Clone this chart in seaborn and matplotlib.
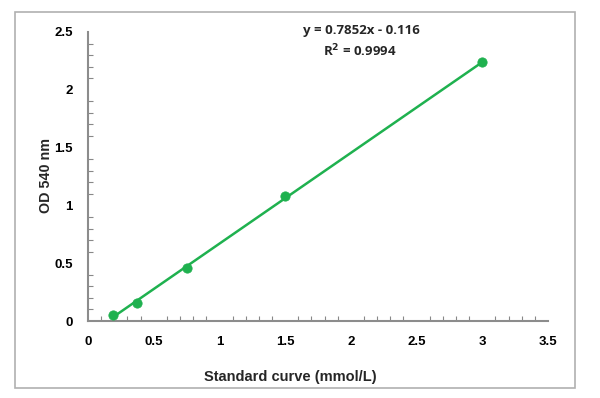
import numpy as np
import pandas as pd
import matplotlib.pyplot as plt
import seaborn as sb
from matplotlib.patches import Rectangle

# standard curve readings
conc = [0.1875, 0.375, 0.75, 1.5, 3.0]
od = [0.055, 0.157, 0.458, 1.085, 2.243]

# trendline as reported
slope = 0.7852
intercept = -0.116
r2 = 0.9994

xticks = [0, 0.5, 1, 1.5, 2, 2.5, 3, 3.5]
xlabels = ['0', '0.5', '1', '1.5', '2', '2.5', '3', '3.5']
yticks = [0, 0.5, 1, 1.5, 2, 2.5]
ylabels = ['0', '0.5', '1', '1.5', '2', '2.5']

sb.set_style('white')
plt.rcParams['font.family'] = ['Liberation Sans', 'DejaVu Sans']
plt.rcParams['font.weight'] = 'bold'

green = '#1fb14f'

df = pd.DataFrame({'conc': conc, 'od': od})
fit = pd.DataFrame({'conc': [min(conc), max(conc)]})
fit['od'] = slope * fit.conc + intercept

fig = plt.figure(figsize=(6, 3.98), dpi=100)
fig.patches.append(Rectangle((15/600, 10/398), 560/600, 376/398, transform=fig.transFigure,
                             fill=False, edgecolor='#b0b0b0', linewidth=1.2))
ax = fig.add_axes([88/600, 77/398, 460/600, 289/398])

sb.lineplot(data=fit, x='conc', y='od', color=green, linewidth=1.8, ax=ax)
sb.scatterplot(data=df, x='conc', y='od', color=green, s=45, edgecolor=green, zorder=3, ax=ax)

ax.set_xlim(0, 3.5)
ax.set_ylim(0, 2.5)
ax.set_xticks(xticks)
ax.set_xticklabels(xlabels)
ax.set_yticks(yticks)
ax.set_yticklabels(ylabels)
ax.set_xticks(np.arange(0.1, 3.5, 0.1), minor=True)
ax.set_yticks(np.arange(0.1, 2.5, 0.1), minor=True)

ax.tick_params(which='both', direction='in', bottom=True, left=True,
               colors='#888888', labelcolor='black')
ax.tick_params(which='major', length=0, pad=11, labelsize=9.5)
ax.tick_params(which='minor', length=3.5, width=0.8)
for s in ['top', 'right']:
    ax.spines[s].set_visible(False)
for s in ['left', 'bottom']:
    ax.spines[s].set_color('#8c8c8c')
    ax.spines[s].set_linewidth(1.5)

ax.set_xlabel('Standard curve (mmol/L)', fontsize=10.5, fontweight='bold')
ax.xaxis.set_label_coords(0.44, -0.17)
ax.set_ylabel('OD 540 nm', fontsize=10.3, fontweight='bold')
ax.yaxis.set_label_coords(-0.077, 0.505)

ax.text(0.594, 1.005, 'y = %.4fx - %.3f' % (slope, -intercept), transform=ax.transAxes,
        ha='center', va='center', fontsize=9.5, fontweight='bold', family=['Open Sans', 'DejaVu Sans'])
ax.text(0.590, 0.935, 'R$^2$ = %.4f' % r2, transform=ax.transAxes,
        ha='center', va='center', fontsize=9.5, fontweight='bold', family=['Open Sans', 'DejaVu Sans'])

plt.savefig('out.png', dpi=100)
